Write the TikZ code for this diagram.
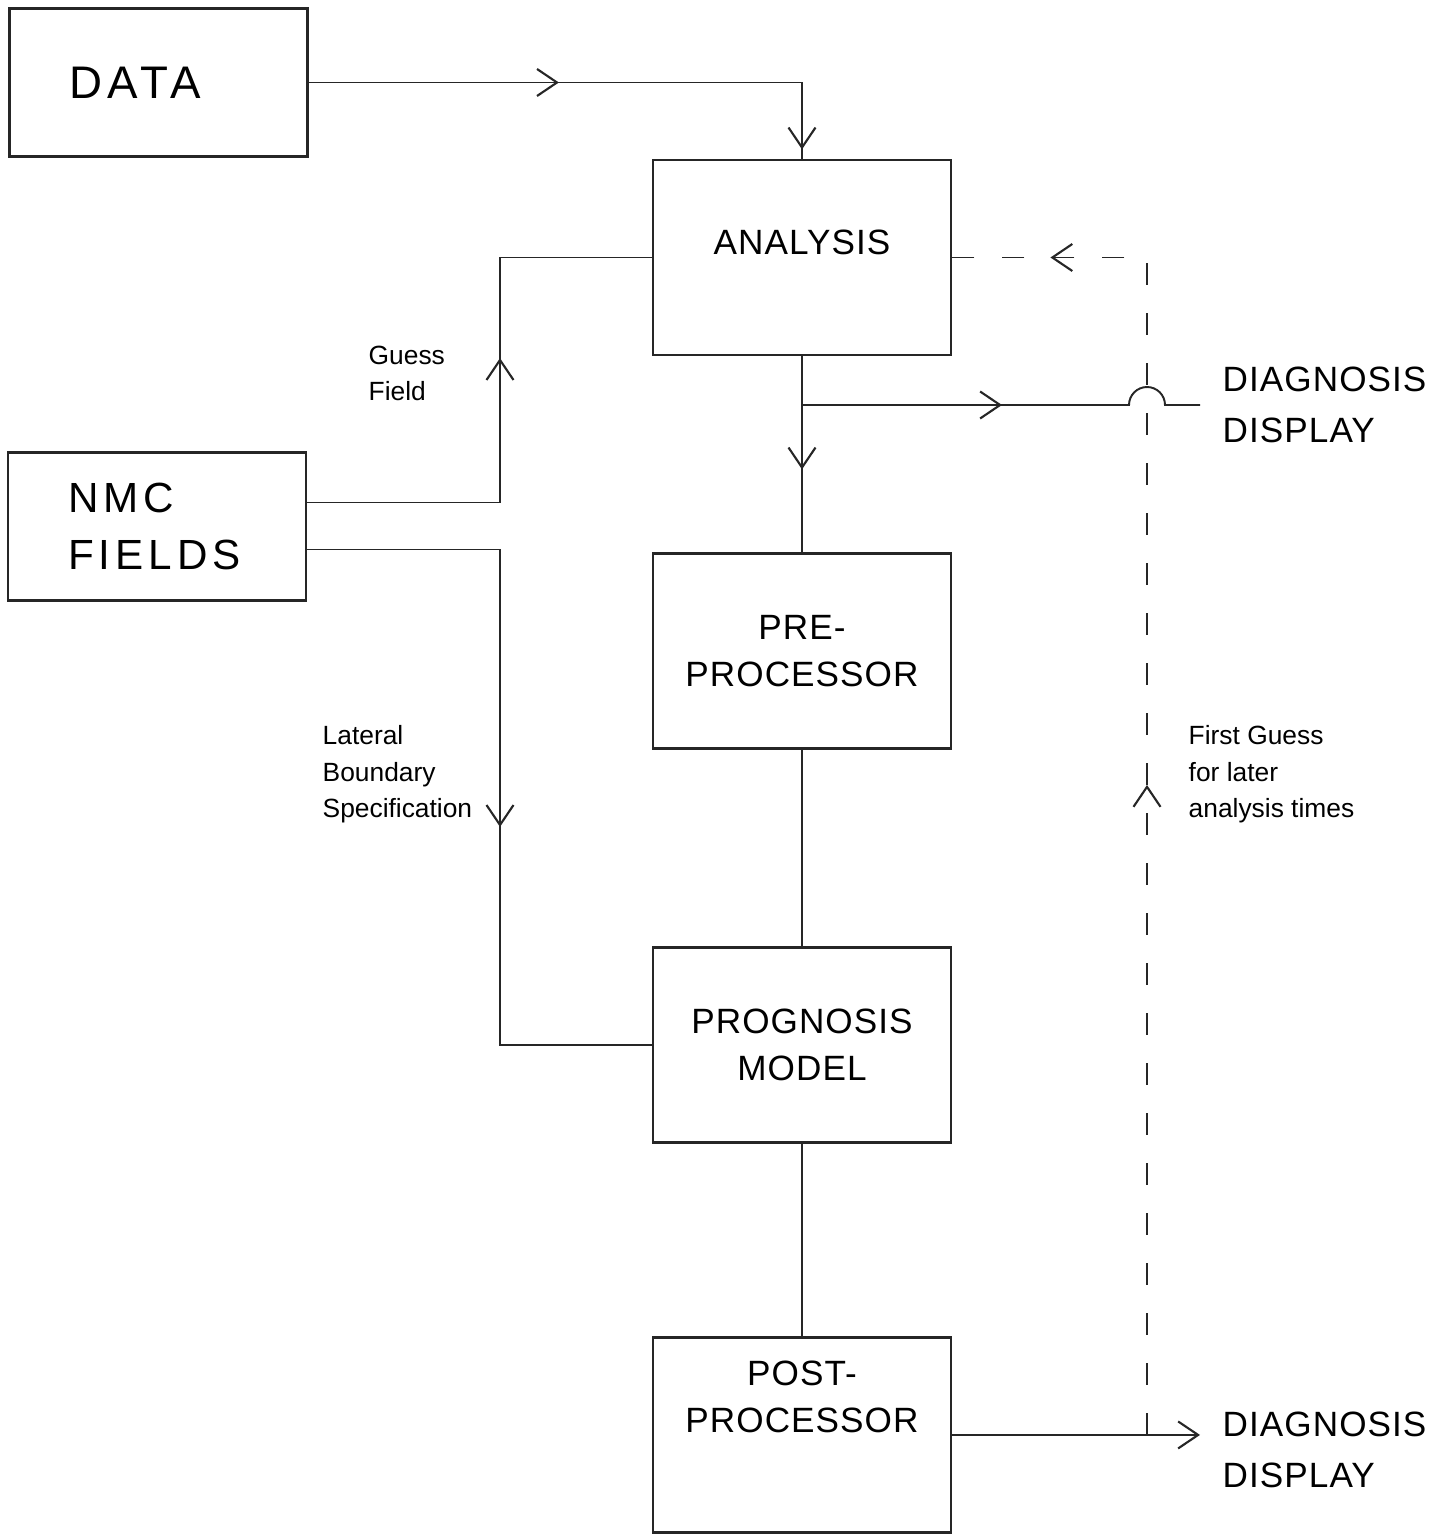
\documentclass[tikz,border=0pt]{standalone}
\usepackage{fontspec}
\setmainfont{Liberation Sans}
\newfontfamily\handfont[LetterSpace=3]{Liberation Sans}
\newfontfamily\widehandfont[LetterSpace=12]{Liberation Sans}
\usetikzlibrary{
  arrows.meta,
  positioning,
  calc,
  decorations.markings
}
\definecolor{sketchInk}{RGB}{38,38,38}
\definecolor{sketchPaper}{RGB}{255,255,255}
\tikzset{
  sketchbarb/.tip={Straight Barb[length=2mm,width=2.7mm,line width=0.6pt]},
  flowbox/.style={
    draw=sketchInk,
    line width=0.8pt,
    minimum width=29.8mm,
    minimum height=19.5mm,
    align=center,
    inner sep=0pt,
    font=\handfont\fontsize{10}{13.5}\selectfont
  },
  sourcebox/.style={
    flowbox,
    minimum height=14.8mm,
    align=left,
    inner xsep=6mm,
    text width=17.8mm
  },
  flowline/.style={
    draw=sketchInk,
    line width=0.55pt
  },
  feedline/.style={
    flowline,
    dash pattern=on 2.2mm off 2.8mm
  },
  midbarb/.style={
    postaction={decorate,decoration={markings,
      mark=at position #1 with {\arrow{sketchbarb}}}}
  },
  outtext/.style={
    align=left,
    inner xsep=2.2mm,
    inner ysep=0pt,
    font=\handfont\fontsize{10}{14.5}\selectfont
  },
  notetext/.style={
    align=left,
    inner sep=0pt,
    font=\fontsize{7.5}{10.3}\selectfont
  }
}

\begin{document}
\begin{tikzpicture}
  \path[use as bounding box, fill=sketchPaper] (0,0) rectangle (14.47,-15.36);

  \node[sourcebox, font=\widehandfont\fontsize{13}{16}\selectfont] (data) at (1.585,-0.825) {DATA};
  \node[sourcebox, font=\widehandfont\fontsize{12}{16}\selectfont] (nmc) at (1.57,-5.265) {NMC\\FIELDS};

  \node[flowbox, text depth=3mm] (analysis) at (8.02,-2.575) {ANALYSIS};
  \node[flowbox, below=19.6mm of analysis] (preproc) {PRE-\\PROCESSOR};
  \node[flowbox, below=19.6mm of preproc] (prognosis) {PROGNOSIS\\MODEL};
  \node[flowbox, below=19.2mm of prognosis, text depth=7.6mm] (postproc) {POST-\\PROCESSOR};

  \node[outtext, anchor=west] (diagtop) at (12.0,-4.05) {DIAGNOSIS\\DISPLAY};
  \node[outtext, anchor=west] (diagbot) at (12.0,-14.50) {DIAGNOSIS\\DISPLAY};

  \node[notetext, anchor=north west] (guess) at (3.68,-3.45) {Guess\\Field};
  \node[notetext, anchor=north west] (lateral) at (3.22,-7.25) {Lateral\\Boundary\\Specification};
  \node[notetext, anchor=north west] (firstguess) at (11.88,-7.25) {First Guess\\for later\\analysis times};

  \coordinate (trunk) at (5.0,0);
  \coordinate (fbline) at (11.47,0);

  \draw[flowline, midbarb=2.5cm, midbarb=5.6cm] (data.east) -| (analysis.north);
  \draw[flowline, midbarb=3.37cm] ([yshift=2.4mm]nmc.east) -| (trunk |- analysis.west) -- (analysis.west);
  \draw[flowline, midbarb=4.7cm] ([yshift=-2.3mm]nmc.east) -| (trunk |- prognosis.west) -- (prognosis.west);
  \draw[flowline, midbarb=1.13cm] (analysis.south) -- (preproc.north);
  \draw[flowline, midbarb=2.0cm] (analysis.south |- diagtop.west) -- ($(fbline |- diagtop.west)+(-1.8mm,0)$)
    arc[start angle=180, end angle=0, radius=1.8mm] -- (diagtop.west);
  \draw[flowline] (preproc.south) -- (prognosis.north);
  \draw[flowline] (prognosis.south) -- (postproc.north);
  \draw[flowline, -sketchbarb] (postproc.east) -- (postproc.east -| diagbot.west);
  \draw[feedline, midbarb=6.5cm, midbarb=12.74cm] (fbline |- postproc.east) |- (analysis.east);
\end{tikzpicture}
\end{document}
